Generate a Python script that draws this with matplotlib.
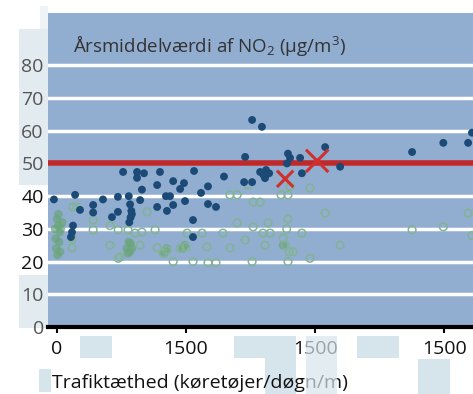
import matplotlib
matplotlib.use("Agg")
import matplotlib.pyplot as plt
from matplotlib.patches import Rectangle

plt.rcParams['font.family'] = ['Open Sans', 'DejaVu Sans']
plt.rcParams['mathtext.fontset'] = 'custom'
plt.rcParams['mathtext.rm'] = 'Open Sans'
plt.rcParams['mathtext.it'] = 'Open Sans'
plt.rcParams['mathtext.default'] = 'regular'

# dark filled points (traffic density, NO2)
x_dark = [-12, 70, 89, 62, 58, 54, 140, 140, 178, 213, 236, 236, 256, 310, 337, 310,
          399, 531, 647, 729, 278, 283, 288, 285, 280, 290, 322, 329, 388, 388, 422,
          438, 426, 450, 450, 477, 492, 496, 527, 527, 558, 585, 585, 616, 725, 756,
          787, 800, 810, 822, 806, 895, 903, 891, 942, 949, 1039, 1097, 756, 794,
          1376, 1497, 1593, 1608]
y_dark = [39, 40.4, 35.8, 31, 29, 27.5, 37.3, 35, 39, 33.6, 35.2, 39.8, 47.4, 47.4,
          47, 45.6, 47.4, 47.7, 46, 52, 40, 37.5, 35.5, 33.5, 32, 34.5, 38.8, 42,
          43.4, 36.7, 40, 40, 35.5, 44.6, 37.3, 42.2, 44, 38.5, 32.7, 27.5, 41, 43,
          37.6, 36.7, 44.3, 44.3, 47.4, 46.5, 48, 47, 45.5, 53, 51.7, 50, 51.7, 47,
          55, 49, 63.3, 61.2, 53.5, 56.3, 56.3, 59.4]

# green open circles
x_open = [77, 62, 140, 140, 58, 58, 205, 237, 244, 302, 329, 322, 349, 388, 411,
          426, 450, 477, 500, 504, 527, 562, 581, 585, 616, 643, 670, 698, 729,
          760, 756, 670, 698, 740, 760, 787, 798, 826, 818, 806, 876, 884, 890,
          895, 900, 895, 868, 895, 903, 980, 949, 980, 915, 1039, 1097, 1376,
          1497, 1608, 1593, 237, 275, 205, 380]
y_open = [36.7, 36.7, 29.7, 32.7, 27, 24.2, 25, 21, 21.4, 28.7, 29, 25, 35.2,
          24.2, 22.6, 23.5, 20, 24, 24.5, 28.7, 20, 28.7, 24.5, 19.6, 19.6, 28.7,
          24.2, 31.8, 26.6, 30.6, 20, 40.4, 40.4, 43.4, 38.2, 38.2, 28.7, 28.7,
          31.8, 25, 27.2, 25, 30, 33, 23, 20, 40.4, 40.4, 43, 42.5, 28.7, 21, 23,
          34.8, 25, 29.7, 30.6, 28, 34.8, 29.7, 29.7, 31, 29.7]

# green filled (blurred clusters)
x_green = [0, 5, 10, -5, 8, -3, 12, 2, 15, -8, 20, 5, 270, 278, 285, 290, 275,
           282, 415, 425, 486, 495, 876]
y_green = [33, 31, 29, 27, 26, 24, 23, 22, 30, 30, 32, 34.5, 24, 26, 25.5, 24,
           22.5, 23, 22.5, 24, 24, 25, 25]

# red crosses
x_cross = [884, 1008]
y_cross = [45.3, 50.8]
s_cross = [140, 260]

limit_value = 50
y_ticks = [0, 10, 20, 30, 40, 50, 60, 70, 80]
x_ticks = [0, 500, 1000, 1500]
x_ticklabels = ['0', '1500', '1500', '1500']

fig = plt.figure(figsize=(4.73, 3.94), dpi=100)
W, H = 473, 394

def box(x0, y0, x1, y1, color, z, alpha=1.0):
    fig.patches.append(Rectangle((x0 / W, 1 - y1 / H), (x1 - x0) / W, (y1 - y0) / H,
                                 transform=fig.transFigure, facecolor=color,
                                 edgecolor='none', zorder=z, alpha=alpha))

# light scan patches behind the left labels
box(40, 6, 48, 30, '#eef3f6', -1)
box(19, 29, 48, 185, '#e2ebf0', -1)
box(19, 275, 48, 328, '#e2ebf0', -1)

ax = fig.add_axes([48 / W, 1 - 327 / H, (W - 48) / W, (327 - 13) / H])
ax.set_facecolor('#91add0')
ax.set_xlim(-35, 1612)
ax.set_ylim(0, 96)

ax.set_yticks(y_ticks)
ax.grid(axis='y', color='white', linewidth=2.5)
ax.grid(axis='x', visible=False)
ax.set_axisbelow(True)
ax.axhline(limit_value, color='#c0282a', linewidth=4, zorder=2.5)

ax.scatter(x_green, y_green, s=38, color='#6aa57a', alpha=0.7, edgecolors='none', zorder=3)
ax.scatter(x_open, y_open, s=30, facecolors='none', edgecolors='#82b392', linewidths=1.1, zorder=3)
ax.scatter(x_dark, y_dark, s=32, color='#1c4a76', edgecolors='none', zorder=4)
ax.scatter(x_cross, y_cross, s=s_cross, marker='x', color='#d0302c', linewidths=2.2, zorder=5)

for sp in ['left', 'right', 'top']:
    ax.spines[sp].set_visible(False)
ax.spines['bottom'].set_color('black')
ax.spines['bottom'].set_linewidth(3)

ax.set_xticks(x_ticks)
ax.set_xticklabels(x_ticklabels)
ax.tick_params(axis='x', length=4, width=1.5, color='black', labelsize=14, pad=5,
               labelcolor='#111111')
ax.tick_params(axis='y', length=0, pad=3, labelsize=14, labelcolor='#555555')
for lab, v in zip(ax.get_yticklabels(), y_ticks):
    if v in (20, 30, 40):
        lab.set_color('#111111')

fig.text(73 / W, 1 - 45 / H, 'Årsmiddelværdi af NO$_2$ (µg/m$^3$)', fontsize=13.5,
         color='#333333', va='center')
fig.text(52 / W, 1 - 383 / H, 'Trafiktæthed (køretøjer/døgn/m)', fontsize=14,
         color='#111111', va='center')

# light scan patches over the lower labels
box(80, 336, 112, 358, '#d6e4ec', 10)
box(234, 336, 296, 358, '#d6e4ec', 0.5)
box(265, 358, 296, 394, '#d6e4ec', 0.5)
box(306, 336, 337, 394, '#d6e4ec', 10, alpha=0.7)
box(357, 336, 399, 358, '#d6e4ec', 10)
box(418, 359, 450, 394, '#d6e4ec', 10)
box(39, 369, 51, 392, '#d6e4ec', 0.5)

fig.savefig('out.png', dpi=100)
